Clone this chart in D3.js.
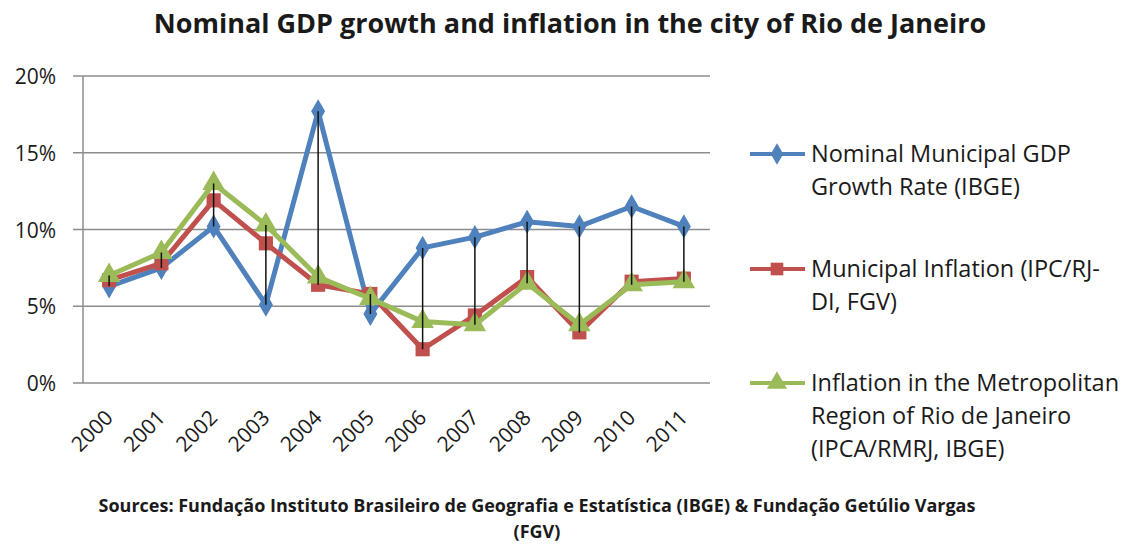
<!DOCTYPE html>
<html>
<head>
<meta charset="utf-8">
<script src="https://cdn.jsdelivr.net/npm/d3@7"></script>
<style>
  body { margin: 0; background: #fff; }
  text { font-family: "Open Sans", "Noto Sans", sans-serif; fill: #1a1a1a; }
</style>
</head>
<body>
<svg id="chart"></svg>
<script>
const years = ["2000", "2001", "2002", "2003", "2004", "2005", "2006", "2007", "2008", "2009", "2010", "2011"];
const gdpGrowth = [6.3, 7.5, 10.2, 5.1, 17.7, 4.5, 8.8, 9.5, 10.5, 10.2, 11.5, 10.2];
const municipalInflation = [6.7, 7.8, 11.9, 9.1, 6.4, 5.8, 2.2, 4.4, 6.9, 3.3, 6.6, 6.8];
const metroInflation = [7.0, 8.5, 13.0, 10.3, 6.9, 5.5, 4.0, 3.8, 6.5, 3.8, 6.4, 6.6];
const yTicks = [0, 5, 10, 15, 20];

const seriesNames = [
    ["Nominal Municipal GDP", "Growth Rate (IBGE)"],
    ["Municipal Inflation (IPC/RJ-", "DI, FGV)"],
    ["Inflation in the Metropolitan", "Region of Rio de Janeiro", "(IPCA/RMRJ, IBGE)"]
];
const seriesColors = ["#4F81BD", "#C0504D", "#9BBB59"];
const seriesMarkers = [d3.symbolDiamond, d3.symbolSquare, d3.symbolTriangle];
const seriesValues = [gdpGrowth, municipalInflation, metroInflation];

const width = 1130;
const height = 544;
const svg = d3.select("#chart").attr("width", width).attr("height", height);

const x = d3.scaleBand().domain(years).range([83, 710]);
const y = d3.scaleLinear().domain([0, 20]).range([383, 76]);
const cx = d => x(d) + x.bandwidth() / 2;

// Title
svg.append("text")
    .attr("x", 570).attr("y", 33)
    .attr("text-anchor", "middle")
    .attr("font-size", 27).attr("font-weight", "bold")
    .text("Nominal GDP growth and inflation in the city of Rio de Janeiro");

// Gridlines
svg.append("g").selectAll("line")
    .data(yTicks)
    .join("line")
    .attr("x1", 73).attr("x2", 710)
    .attr("y1", d => y(d)).attr("y2", d => y(d))
    .attr("stroke", "#8c8c8c").attr("stroke-width", 1.5);

// Y axis line
svg.append("line")
    .attr("x1", 83).attr("x2", 83)
    .attr("y1", y(20)).attr("y2", y(0))
    .attr("stroke", "#8c8c8c").attr("stroke-width", 1.5);

// Y labels
svg.append("g").selectAll("text")
    .data(yTicks)
    .join("text")
    .attr("x", 56).attr("y", d => y(d) + 8)
    .attr("text-anchor", "end")
    .attr("font-size", 21)
    .text(d => d + "%");

// X labels
svg.append("g").selectAll("text")
    .data(years)
    .join("text")
    .attr("text-anchor", "end")
    .attr("font-size", 21)
    .attr("transform", d => `translate(${cx(d) + 5},${419}) rotate(-45)`)
    .text(d => d);

// Series lines and markers
const markerSizes = [170, 200, 220];
seriesValues.forEach(function (values, k) {
    const line = d3.line()
        .x((d, i) => cx(years[i]))
        .y(d => y(d));

    svg.append("path")
        .datum(values)
        .attr("d", line)
        .attr("fill", "none")
        .attr("stroke", seriesColors[k])
        .attr("stroke-width", 5)
        .attr("stroke-linejoin", "round");

    svg.append("g").selectAll("path")
        .data(values)
        .join("path")
        .attr("d", d3.symbol().type(seriesMarkers[k]).size(markerSizes[k]))
        .attr("transform", (d, i) => `translate(${cx(years[i])},${y(d)})`)
        .attr("fill", seriesColors[k]);
});

// High-low lines, drawn over the series
svg.append("g").selectAll("line")
    .data(years)
    .join("line")
    .attr("x1", d => cx(d)).attr("x2", d => cx(d))
    .attr("y1", (d, i) => y(d3.max(seriesValues, s => s[i])))
    .attr("y2", (d, i) => y(d3.min(seriesValues, s => s[i])))
    .attr("stroke", "#111").attr("stroke-width", 1.5);

// Legend
const legendTops = [154, 269, 383];
seriesNames.forEach(function (lines, k) {
    const g = svg.append("g");
    g.append("line")
        .attr("x1", 750).attr("x2", 805)
        .attr("y1", legendTops[k]).attr("y2", legendTops[k])
        .attr("stroke", seriesColors[k]).attr("stroke-width", 4);
    g.append("path")
        .attr("d", d3.symbol().type(seriesMarkers[k]).size(markerSizes[k] * 0.8))
        .attr("transform", `translate(777,${legendTops[k]})`)
        .attr("fill", seriesColors[k]);
    lines.forEach(function (t, j) {
        g.append("text")
            .attr("x", 811).attr("y", legendTops[k] + 8 + j * 33)
            .attr("font-size", 23.5)
            .text(t);
    });
});

// Sources
svg.append("text")
    .attr("x", 537).attr("y", 512)
    .attr("text-anchor", "middle")
    .attr("font-size", 18).attr("font-weight", "bold")
    .text("Sources: Fundação Instituto Brasileiro de Geografia e Estatística (IBGE) & Fundação Getúlio Vargas");
svg.append("text")
    .attr("x", 537).attr("y", 538)
    .attr("text-anchor", "middle")
    .attr("font-size", 18).attr("font-weight", "bold")
    .text("(FGV)");
</script>
</body>
</html>
